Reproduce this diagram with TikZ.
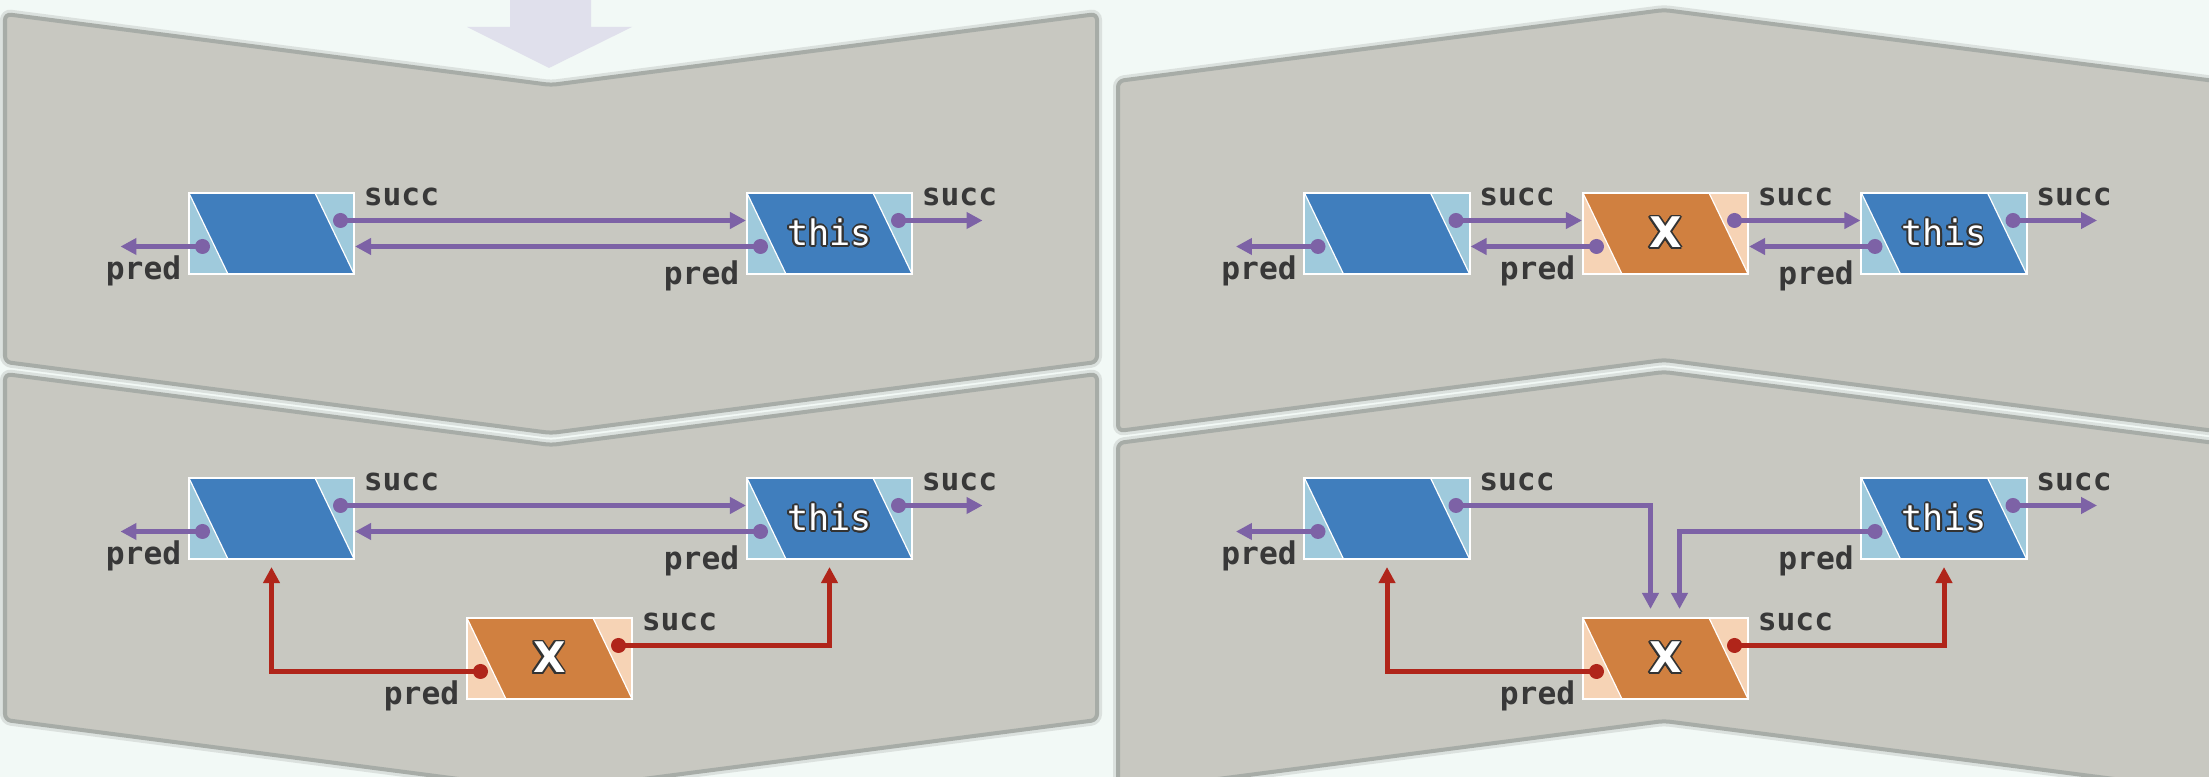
\documentclass[tikz,border=0pt]{standalone}
\usepackage{fontspec}
\setmonofont{DejaVu Sans Mono}
\newfontfamily\xfont{DejaVu Sans}
\usepackage[copies]{contour}
\usetikzlibrary{arrows.meta}

\definecolor{bggreen}{HTML}{F2F9F6}
\definecolor{panelgray}{HTML}{C8C8C1}
\definecolor{panelline}{HTML}{A7ACA7}
\definecolor{arrowlav}{HTML}{E0E0EC}
\definecolor{cellblue}{HTML}{407EBD}
\definecolor{celllight}{HTML}{9FCADC}
\definecolor{xorange}{HTML}{D08040}
\definecolor{xpeach}{HTML}{F6D3B5}
\definecolor{linkpurple}{HTML}{7D62A6}
\definecolor{linkred}{HTML}{B0251A}
\definecolor{labelgray}{HTML}{383838}
\definecolor{textline}{HTML}{333333}
\contourlength{0.5pt}

\tikzset{
  panel/.style={fill=panelgray, draw=panelline, line width=0.04cm, rounded corners=0.06cm,
    preaction={draw=panelline, line width=0.1cm, opacity=0.3}},
  cell/.style 2 args={draw=white, line width=0.02cm, fill=#1, minimum width=1.65cm,
    minimum height=0.81cm, inner sep=0pt,
    path picture={\filldraw[fill=#2, draw=white, line width=0.012cm]
      (path picture bounding box.north west) -- ([xshift=1.26cm]path picture bounding box.north west)
      -- (path picture bounding box.south east) -- ([xshift=-1.26cm]path picture bounding box.south east) -- cycle;}},
  bluecell/.style={cell={celllight}{cellblue}},
  xcell/.style={cell={xpeach}{xorange}, font=\xfont\bfseries\fontsize{12}{14}\selectfont, text=white},
  thiscell/.style={bluecell, font=\ttfamily\fontsize{10}{12}\selectfont, text=white},
  lbl/.style={font=\ttfamily\bfseries\fontsize{8.9}{10}\selectfont, text=labelgray, inner sep=0pt},
  link/.style={draw=linkpurple, line width=0.05cm, -{Triangle[length=0.16cm,width=0.16cm]}},
  relink/.style={link, draw=linkred, shorten >=0.07cm}
}

\begin{document}
\begin{tikzpicture}[x=0.01cm,y=-0.01cm]
\useasboundingbox (0,0) rectangle (2209,777);
\clip (0,0) rectangle (2209,777);
\fill[bggreen] (0,0) rectangle (2209,777);

% panels
\draw[panel] (5,14) -- (551,85) -- (1097,14) -- (1097,362) -- (551,433) -- (5,362) -- cycle;
\draw[panel] (5,374) -- (551,445) -- (1097,374) -- (1097,720) -- (551,791) -- (5,720) -- cycle;
\draw[panel] (1118,81) -- (1664,10) -- (2215,81) -- (2215,431) -- (1664,360) -- (1118,431) -- cycle;
\draw[panel] (1118,443) -- (1664,372) -- (2215,443) -- (2215,792) -- (1664,721) -- (1118,792) -- cycle;
\fill[arrowlav] (510,-5) -- (510,27) -- (467,27) -- (549,68) -- (632,27) -- (591,27) -- (591,-5) -- cycle;

% nodes
\node[bluecell] (A1) at (271.5,233.5) {};
\node[thiscell] (T1) at (829.5,233.5) {\contour{textline}{this}};
\node[bluecell] (A2) at (271.5,518.5) {};
\node[thiscell] (T2) at (829.5,518.5) {\contour{textline}{this}};
\node[xcell] (X2) at (549.5,658.5) {\contour{textline}{X}};
\node[bluecell] (A3) at (1387,233.5) {};
\node[xcell] (X3) at (1665.5,233.5) {\contour{textline}{X}};
\node[thiscell] (T3) at (1944,233.5) {\contour{textline}{this}};
\node[bluecell] (A4) at (1387,518.5) {};
\node[thiscell] (T4) at (1944,518.5) {\contour{textline}{this}};
\node[xcell] (X4) at (1665.5,658.5) {\contour{textline}{X}};

\foreach \n in {A1,T1,A2,T2,X2,A3,X3,T3,A4,T4,X4} {
  \coordinate (\n-p) at ([shift={(-69,13)}]\n.center);
  \coordinate (\n-s) at ([shift={(69,-13)}]\n.center);
}

% labels
\foreach \n in {A1,T1,A2,T2,X2,A3,X3,T3,A4,T4,X4}
  \node[lbl, anchor=base west] (\n-sl) at ([shift={(8,14)}]\n.north east) {succ};
\foreach \n in {A1,A2,X2,A3,X3,A4,X4}
  \node[lbl, anchor=base east] (\n-pl) at ([shift={(-6,4)}]\n.south west) {pred};
\foreach \n in {T1,T2,T3,T4}
  \node[lbl, anchor=base east] (\n-pl) at ([shift={(-6,9)}]\n.south west) {pred};

% free ends
\foreach \n in {A1,A2,A3,A4}
  \coordinate (\n-pe) at ([xshift=-0.82cm]\n-p);
\foreach \n in {T1,T2,T3,T4}
  \coordinate (\n-se) at ([xshift=0.84cm]\n-s);

% links
\foreach \n in {A1,A2,A3,A4}
  \draw[link] (\n-p) -- (\n-pe);
\foreach \n in {T1,T2,T3,T4}
  \draw[link] (\n-s) -- (\n-se);
\draw[link] (A1-s) -- (A1-s -| T1.west);
\draw[link] (T1-p) -- (T1-p -| A1.east);
\draw[link] (A2-s) -- (A2-s -| T2.west);
\draw[link] (T2-p) -- (T2-p -| A2.east);
\draw[relink] (X2-p) -| (A2.south);
\draw[relink] (X2-s) -| (T2.south);
\draw[link] (A3-s) -- (A3-s -| X3.west);
\draw[link] (X3-p) -- (X3-p -| A3.east);
\draw[link] (X3-s) -- (X3-s -| T3.west);
\draw[link] (T3-p) -- (T3-p -| X3.east);
\draw[link, shorten >=0.08cm] (A4-s) -| ([xshift=-0.15cm]X4.north);
\draw[link, shorten >=0.08cm] (T4-p) -| ([xshift=0.14cm]X4.north);
\draw[relink] (X4-p) -| (A4.south);
\draw[relink] (X4-s) -| (T4.south);

% dots
\foreach \n in {A1,T1,A2,T2,A3,X3,T3,A4,T4}
  \fill[linkpurple] (\n-p) circle (0.075cm) (\n-s) circle (0.075cm);
\foreach \n in {X2,X4}
  \fill[linkred] (\n-p) circle (0.075cm) (\n-s) circle (0.075cm);
\end{tikzpicture}
\end{document}
